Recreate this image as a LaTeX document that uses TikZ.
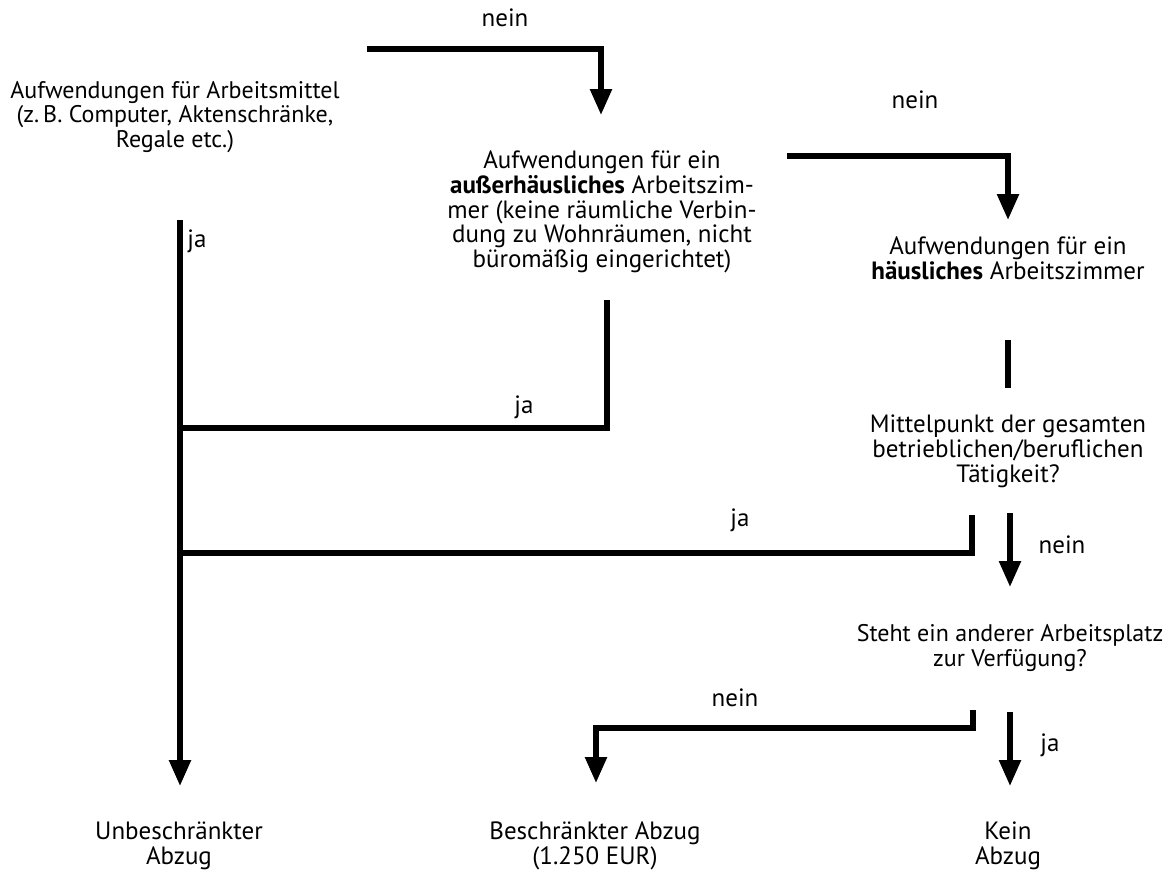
\documentclass[tikz,border=0pt]{standalone}
\usepackage{fontspec}
\setmainfont{PT Sans}
\usetikzlibrary{arrows.meta}
\begin{document}
\begin{tikzpicture}[x=1pt,y=-1pt,
  txt/.style={align=center,font=\fontsize{25}{24.8}\selectfont,inner sep=0pt},
  txtsm/.style={txt,font=\fontsize{24}{24.8}\selectfont},
  lbl/.style={font=\fontsize{25}{25}\selectfont,inner sep=0pt},
  conn/.style={line width=5.5pt},
  arr/.style={line width=5.5pt,-{Triangle[length=26pt,width=21pt]}}]
\useasboundingbox[fill=white] (0,0) rectangle (1170,876);
% text nodes
\node[txtsm] (b1) at (175,117) {Aufwendungen für Arbeitsmittel\\(z.\,B. Computer, Aktenschränke,\\Regale etc.)};
\node[txt] (b2) at (602,212) {Aufwendungen für ein\\\textbf{außerhäusliches} Arbeitszim-\\mer (keine räumliche Verbin-\\dung zu Wohnräumen, nicht\\büromäßig eingerichtet)};
\node[txt] (b3) at (1008,258) {Aufwendungen für ein\\\textbf{häusliches} Arbeitszimmer};
\node[txt] (b4) at (1008,451) {Mittelpunkt der gesamten\\betrieblichen/beruflichen\\Tätigkeit?};
\node[txtsm] (b5) at (1010,648) {Steht ein anderer Arbeitsplatz\\zur Verfügung?};
\node[txt] (e1) at (179,846) {Unbeschränkter\\Abzug};
\node[txt] (e2) at (595,846) {Beschränkter Abzug\\(1.250 EUR)};
\node[txt] (e3) at (1008,846) {Kein\\Abzug};
% labels
\node[lbl] (l1) at (505,18) {nein};
\node[lbl] (l2) at (915,100) {nein};
\node[lbl] (l3) at (197,241) {ja};
\node[lbl] (l4) at (524,407) {ja};
\node[lbl] (l5) at (740,520) {ja};
\node[lbl] (l6) at (1062,545) {nein};
\node[lbl] (l7) at (735,698) {nein};
\node[lbl] (l8) at (1050,745) {ja};
% coordinates
\coordinate (s1) at (367,49);
\coordinate (t1) at (601,115);
\coordinate (s2) at (787,156);
\coordinate (t2) at (1008,220);
\coordinate (s3) at (180,220);
\coordinate (t3) at (180,786);
\coordinate (s4) at (607,300);
\coordinate (j4) at (180,428);
\coordinate (s5) at (1008,340);
\coordinate (t5) at (1008,388);
\coordinate (s6) at (972,515);
\coordinate (j6) at (180,553);
\coordinate (s7) at (1010,513);
\coordinate (t7) at (1010,587);
\coordinate (s8) at (973,710);
\coordinate (k8) at (596,728);
\coordinate (t8) at (596,783);
\coordinate (s9) at (1010,712);
\coordinate (t9) at (1010,786);
% connectors
\draw[arr] (s1) -| (t1);
\draw[arr] (s2) -| (t2);
\draw[arr] (s3) -- (t3);
\draw[conn] (s4) |- (j4);
\draw[conn] (s5) -- (t5);
\draw[conn] (s6) |- (j6);
\draw[arr] (s7) -- (t7);
\draw[arr] (s8) |- (k8) -- (t8);
\draw[arr] (s9) -- (t9);
\end{tikzpicture}
\end{document}
